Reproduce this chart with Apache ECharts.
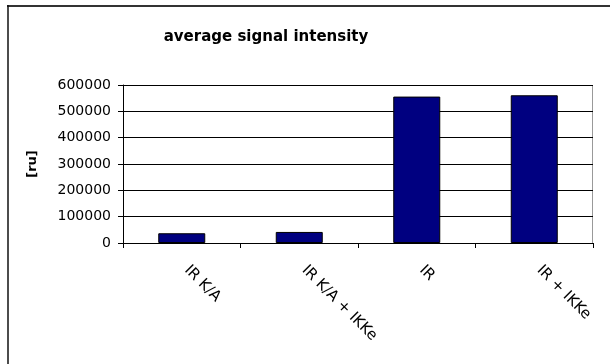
<!DOCTYPE html>
<html>
<head>
<meta charset="utf-8">
<script src="https://cdn.jsdelivr.net/npm/echarts@6/dist/echarts.min.js"></script>
<style>
  html, body { margin: 0; padding: 0; background: #ffffff; }
  #chart { width: 610px; height: 364px; }
</style>
</head>
<body>
<div id="chart"></div>
<script>
// Sample groups and their mean intensities
const categories = ['IR K/A', 'IR K/A + IKKe', 'IR', 'IR + IKKe'];
const intensity = [37000, 42000, 556000, 561000];
const yTicks = [0, 100000, 200000, 300000, 400000, 500000, 600000];

const chart = echarts.init(document.getElementById('chart'), null, { renderer: 'canvas' });

const font = '"DejaVu Sans", Arial, sans-serif';

chart.setOption({
  animation: false,
  backgroundColor: '#ffffff',
  title: {
    text: 'average signal intensity',
    left: 261,
    top: 25,
    textAlign: 'center',
    textStyle: { fontFamily: font, fontSize: 15, fontWeight: 'bold', color: '#000' }
  },
  grid: { left: 123, top: 85, right: 17, bottom: 121, containLabel: false },
  xAxis: {
    type: 'category',
    data: categories,
    boundaryGap: true,
    axisLine: { show: true, lineStyle: { color: '#000', width: 1 } },
    axisTick: { show: true, alignWithLabel: false, length: 5, lineStyle: { color: '#000' } },
    axisLabel: {
      rotate: -45,
      margin: 20,
      padding: [0, 0, 0, 7],
      fontFamily: font,
      fontSize: 15,
      color: '#000'
    },
    splitLine: { show: false }
  },
  yAxis: {
    type: 'value',
    min: yTicks[0],
    max: yTicks[yTicks.length - 1],
    interval: yTicks[1] - yTicks[0],
    name: '[ru]',
    nameLocation: 'middle',
    nameGap: 84,
    nameRotate: 90,
    nameTextStyle: { fontFamily: font, fontSize: 13, fontWeight: 'bold', color: '#000' },
    axisLine: { show: true, lineStyle: { color: '#000', width: 1 } },
    axisTick: { show: true, length: 5, lineStyle: { color: '#000' } },
    axisLabel: {
      fontFamily: font,
      fontSize: 14,
      color: '#000',
      margin: 12,
      formatter: v => String(v)
    },
    splitLine: { show: true, lineStyle: { color: '#000', width: 1 } }
  },
  series: [{
    type: 'bar',
    data: intensity,
    barWidth: '40%',
    itemStyle: { color: '#000080', borderColor: '#000', borderWidth: 1 }
  }],
  graphic: [
    // partial chart frame (top and left edges)
    { type: 'line', shape: { x1: 7, y1: 6, x2: 610, y2: 6 }, style: { stroke: '#333', lineWidth: 2 } },
    { type: 'line', shape: { x1: 8, y1: 5, x2: 8, y2: 364 }, style: { stroke: '#111', lineWidth: 1.5 } },
    // plot-area border on the top and right
    { type: 'line', shape: { x1: 123, y1: 85.5, x2: 593, y2: 85.5 }, style: { stroke: '#999', lineWidth: 1 } },
    { type: 'line', shape: { x1: 592.5, y1: 85, x2: 592.5, y2: 243 }, style: { stroke: '#999', lineWidth: 1 } }
  ]
});
</script>
</body>
</html>
